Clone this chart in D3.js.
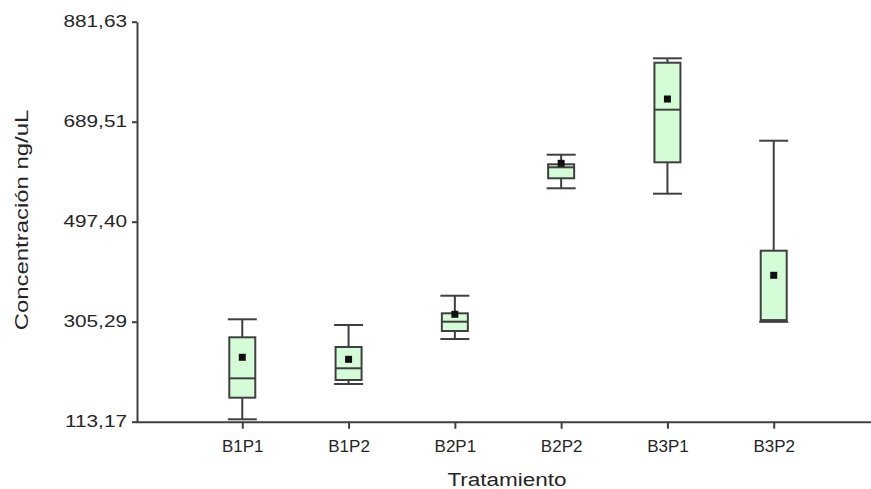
<!DOCTYPE html>
<html lang="es">
  <head>
    <meta charset="utf-8" />
    <script src="https://cdn.jsdelivr.net/npm/d3@7/dist/d3.min.js"></script>
    <style>
      body { margin: 0; background: #fff; }
      .axis path, .axis line { stroke: #404040; stroke-width: 2; }
      .axis text { font-family: "Liberation Sans", Arial, sans-serif; fill: #262626; }
      .title { font-family: "Liberation Sans", Arial, sans-serif; fill: #262626; }
      .box { fill: #d4fcd7; stroke: #404040; stroke-width: 2; }
      .whisker, .median, .cap { stroke: #404040; stroke-width: 2; }
      .mean { fill: #111; }
    </style>
  </head>
  <body>
    <div id="container"></div>
    <script>
      // datos (ng/uL)
      const categories = ["B1P1", "B1P2", "B2P1", "B2P2", "B3P1", "B3P2"];
      const minVals = [117.8, 185.6, 272.0, 561.6, 551.2, 305.0];
      const q1Vals = [159.3, 193.3, 287.4, 580.8, 611.5, 308.0];
      const medianVals = [196.5, 215.8, 305.3, 601.9, 712.6, 308.0];
      const q3Vals = [275.3, 256.7, 321.4, 607.7, 802.8, 441.7];
      const maxVals = [309.9, 298.9, 355.2, 626.1, 811.3, 653.0];
      const meanVals = [236.9, 233.0, 319.5, 609.6, 733.1, 394.4];
      const yTicks = [113.17, 305.29, 497.4, 689.51, 881.63];

      const width = 871;
      const height = 489;

      const svg = d3.select("#container").append("svg").attr("width", width).attr("height", height);

      const x = d3.scalePoint().domain(categories).range([136, 880]).padding(1);
      const y = d3.scaleLinear().domain([113.17, 881.63]).range([421.7, 21.7]);

      const es = d3.formatLocale({ decimal: ",", thousands: ".", grouping: [3], currency: ["", ""] });
      const fmt = es.format(".2f");

      // eje y
      const sy = 1.3;
      const gy = svg.append("g").attr("class", "axis").attr("transform", "translate(137,0)")
        .call(d3.axisLeft(y).tickValues(yTicks).tickFormat(fmt).tickSize(5).tickSizeOuter(0));
      gy.selectAll("text").attr("font-size", 16).attr("x", -10 / sy).attr("transform", `scale(${sy},1)`);

      // eje x
      const gx = svg.append("g").attr("class", "axis").attr("transform", `translate(0,${y(113.17)})`)
        .call(d3.axisBottom(x).tickSize(7).tickSizeOuter(0));
      gx.selectAll(".tick text").attr("font-size", 17).attr("y", 18.5);

      const boxes = categories.map((c, i) => ({
        c, min: minVals[i], q1: q1Vals[i], med: medianVals[i], q3: q3Vals[i], max: maxVals[i], mean: meanVals[i]
      }));

      const g = svg.append("g");
      const bw = 26, cw = 29, ms = 7;

      g.selectAll(".whisker").data(boxes).join("line").attr("class", "whisker")
        .attr("x1", d => x(d.c)).attr("x2", d => x(d.c))
        .attr("y1", d => y(d.min)).attr("y2", d => y(d.max));

      g.selectAll(".capTop").data(boxes).join("line").attr("class", "cap")
        .attr("x1", d => x(d.c) - cw / 2).attr("x2", d => x(d.c) + cw / 2)
        .attr("y1", d => y(d.max)).attr("y2", d => y(d.max));
      g.selectAll(".capBot").data(boxes).join("line").attr("class", "cap")
        .attr("x1", d => x(d.c) - cw / 2).attr("x2", d => x(d.c) + cw / 2)
        .attr("y1", d => y(d.min)).attr("y2", d => y(d.min));

      g.selectAll(".box").data(boxes).join("rect").attr("class", "box")
        .attr("x", d => x(d.c) - bw / 2).attr("width", bw)
        .attr("y", d => y(d.q3)).attr("height", d => y(d.q1) - y(d.q3));

      g.selectAll(".median").data(boxes).join("line").attr("class", "median")
        .attr("x1", d => x(d.c) - bw / 2).attr("x2", d => x(d.c) + bw / 2)
        .attr("y1", d => y(d.med)).attr("y2", d => y(d.med));

      g.selectAll(".mean").data(boxes).join("rect").attr("class", "mean")
        .attr("x", d => x(d.c) - ms / 2).attr("y", d => y(d.mean) - ms / 2)
        .attr("width", ms).attr("height", ms);

      // titulos
      svg.append("text").attr("class", "title").attr("font-size", 18).attr("text-anchor", "middle")
        .attr("transform", "translate(507,486) scale(1.25,1)").text("Tratamiento");
      svg.append("text").attr("class", "title").attr("font-size", 18).attr("text-anchor", "middle")
        .attr("transform", "translate(28,220) rotate(-90) scale(1.33,1)").text("Concentración ng/uL");
    </script>
  </body>
</html>
